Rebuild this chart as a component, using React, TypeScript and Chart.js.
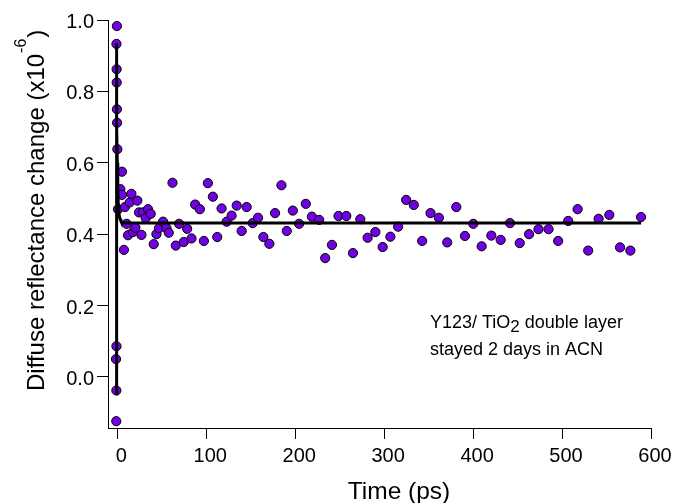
import React, { useEffect, useRef } from "react";
import { Chart, registerables } from "chart.js";

Chart.register(...registerables);

// Measured data points: time (ps) and diffuse reflectance change (x10^-6)
const DATA_T = [
  -1.5, -1.2, -1.1, -1.0, -1.0, -0.8, -0.7, -0.5, -0.5, -0.3, 0, 0.7, 3.4, 5.2, 5.2,
  7.4, 8.6, 10.5, 12.0, 13.9, 15.8, 17.6, 20.3, 22.5, 24.4, 27.1, 28.9, 31.9, 34.5, 37.5,
  40.9, 44.0, 46.9, 51.4, 55.2, 57.8, 62.0, 65.7, 69.4, 74.7, 78.5, 83.4, 87.5, 92.8, 97.3,
  101.8, 107.4, 112.3, 117.2, 122.9, 128.5, 134.2, 139.8, 145.4, 152.2, 158.2, 164.2, 170.9, 177.3, 184.5,
  190.5, 197.3, 204.4, 211.9, 218.7, 226.9, 233.7, 241.3, 248.7, 257.4, 264.9, 273.2, 281.4, 290.1, 298.3,
  307.0, 315.7, 324.7, 333.3, 342.7, 352.1, 361.5, 370.9, 381.1, 390.8, 400.2, 409.6, 420.5, 431.0, 441.5,
  452.4, 462.9, 473.5, 484.8, 495.6, 506.9, 517.5, 529.4, 541.1, 553.1, 565.2, 576.8, 588.8,
];
const DATA_V = [
  0.050, -0.124, -0.038, 0.086, 0.933, 0.862, 0.825, 0.983, 0.750, 0.712, 0.638, 0.470, 0.526, 0.510, 0.575,
  0.356, 0.476, 0.429, 0.397, 0.489, 0.513, 0.406, 0.418, 0.494, 0.461, 0.398, 0.461, 0.445, 0.470, 0.457,
  0.372, 0.400, 0.417, 0.435, 0.417, 0.404, 0.544, 0.368, 0.429, 0.378, 0.415, 0.388, 0.483, 0.470, 0.381,
  0.543, 0.505, 0.392, 0.472, 0.435, 0.452, 0.480, 0.409, 0.476, 0.431, 0.446, 0.392, 0.373, 0.459, 0.537,
  0.409, 0.466, 0.429, 0.485, 0.449, 0.440, 0.333, 0.370, 0.451, 0.451, 0.347, 0.442, 0.390, 0.406, 0.364,
  0.393, 0.421, 0.496, 0.482, 0.381, 0.459, 0.446, 0.377, 0.476, 0.395, 0.429, 0.366, 0.396, 0.384, 0.431,
  0.375, 0.400, 0.414, 0.414, 0.381, 0.437, 0.470, 0.354, 0.443, 0.454, 0.363, 0.354, 0.448,
];

// Fit curve
const FIT_T = [-1.2, -1.1, -0.8, -0.5, 0, 0.5, 1, 2, 3, 4, 6, 10, 589];
const FIT_V = [-0.047, 0.935, 0.8, 0.7, 0.6, 0.53, 0.49, 0.455, 0.443, 0.437, 0.432, 0.431, 0.431];

const X_TICKS = [0, 100, 200, 300, 400, 500, 600];
const Y_TICKS = [0, 0.2, 0.4, 0.6, 0.8, 1.0];
const X_MIN = -10.5;
const X_MAX = 600;
const Y_MIN = -0.143;
const Y_MAX = 1.0;

const X_TITLE = "Time (ps)";
const Y_TITLE_MAIN = "Diffuse reflectance change (x10";
const Y_TITLE_SUP = "-6";
const Y_TITLE_END = ")";
const NOTE_1A = "Y123/ TiO";
const NOTE_1SUB = "2";
const NOTE_1B = " double layer";
const NOTE_2 = "stayed 2 days in ACN";

const FONT = "'Liberation Sans', Arial, Helvetica, sans-serif";

const textPlugin = {
  id: "customText",
  afterDraw(chart: any) {
    const ctx = chart.ctx as CanvasRenderingContext2D;
    ctx.save();
    ctx.fillStyle = "#000";
    ctx.textBaseline = "alphabetic";

    // x-axis title
    ctx.font = `24.5px ${FONT}`;
    ctx.textAlign = "center";
    ctx.fillText(X_TITLE, 399, 499);

    // y-axis title (rotated) with superscript
    ctx.save();
    ctx.translate(43.5, 391);
    ctx.rotate(-Math.PI / 2);
    ctx.textAlign = "left";
    ctx.font = `24px ${FONT}`;
    ctx.fillText(Y_TITLE_MAIN, 0, 0);
    let w = ctx.measureText(Y_TITLE_MAIN).width;
    ctx.font = `16px ${FONT}`;
    ctx.fillText(Y_TITLE_SUP, w + 1, -18);
    w += 1 + ctx.measureText(Y_TITLE_SUP).width + 1;
    ctx.font = `24px ${FONT}`;
    ctx.fillText(Y_TITLE_END, w, 0);
    ctx.restore();

    // annotation
    ctx.textAlign = "left";
    ctx.font = `18px ${FONT}`;
    let x = 430;
    ctx.fillText(NOTE_1A, x, 327.5);
    x += ctx.measureText(NOTE_1A).width;
    ctx.font = `17px ${FONT}`;
    ctx.fillText(NOTE_1SUB, x, 331.8);
    x += ctx.measureText(NOTE_1SUB).width;
    ctx.font = `18px ${FONT}`;
    ctx.fillText(NOTE_1B, x, 327.5);
    ctx.fillText(NOTE_2, 430, 355);

    ctx.restore();
  },
};

export default function App() {
  const canvasRef = useRef<HTMLCanvasElement | null>(null);

  useEffect(() => {
    const canvas = canvasRef.current;
    if (!canvas) return;

    const scatterData = DATA_T.map((t, i) => ({ x: t, y: DATA_V[i] }));
    const fitData = FIT_T.map((t, i) => ({ x: t, y: FIT_V[i] }));

    const chart = new Chart(canvas, {
      type: "scatter",
      data: {
        datasets: [
          {
            label: "fit",
            data: fitData,
            showLine: true,
            borderColor: "#000",
            borderWidth: 3,
            pointRadius: 0,
            fill: false,
            tension: 0,
          } as any,
          {
            label: "data",
            data: scatterData,
            pointRadius: 4.6,
            pointBackgroundColor: "#7100E2",
            pointBorderColor: "#000",
            pointBorderWidth: 1,
            showLine: false,
          } as any,
        ],
      },
      options: {
        animation: false,
        responsive: false,
        devicePixelRatio: 1,
        layout: { padding: { top: 20, right: 25, left: 0, bottom: 0 } },
        plugins: {
          legend: { display: false },
          tooltip: { enabled: false },
          title: { display: false },
        },
        scales: {
          x: {
            type: "linear",
            position: "bottom",
            min: X_MIN,
            max: X_MAX,
            afterBuildTicks: (s: any) => {
              s.ticks = X_TICKS.map((v) => ({ value: v }));
            },
            afterFit: (s: any) => {
              s.height = 75;
            },
            grid: {
              display: true,
              drawOnChartArea: false,
              drawTicks: true,
              tickLength: 11,
              color: "#000",
              lineWidth: 1,
            },
            border: { display: true, color: "#000", width: 1 },
            ticks: {
              font: { family: FONT, size: 20 },
              color: "#000",
              padding: 5,
              labelOffset: 4,
              maxRotation: 0,
              autoSkip: false,
              callback: (v: any) => String(v),
            },
          },
          y: {
            type: "linear",
            position: "left",
            min: Y_MIN,
            max: Y_MAX,
            afterBuildTicks: (s: any) => {
              s.ticks = Y_TICKS.map((v) => ({ value: v }));
            },
            afterFit: (s: any) => {
              s.width = 108;
            },
            grid: {
              display: true,
              drawOnChartArea: false,
              drawTicks: true,
              tickLength: 11,
              color: "#000",
              lineWidth: 1,
            },
            border: { display: true, color: "#000", width: 1 },
            ticks: {
              font: { family: FONT, size: 20 },
              color: "#000",
              padding: 3,
              labelOffset: 2.5,
              autoSkip: false,
              callback: (v: any) => Number(v).toFixed(1),
            },
          },
        },
      },
      plugins: [textPlugin],
    });

    return () => {
      chart.destroy();
    };
  }, []);

  return (
    <div style={{ position: "fixed", left: 0, top: 0, width: 676, height: 503, background: "#fff" }}>
      <canvas ref={canvasRef} width={676} height={503} style={{ display: "block" }} />
    </div>
  );
}
